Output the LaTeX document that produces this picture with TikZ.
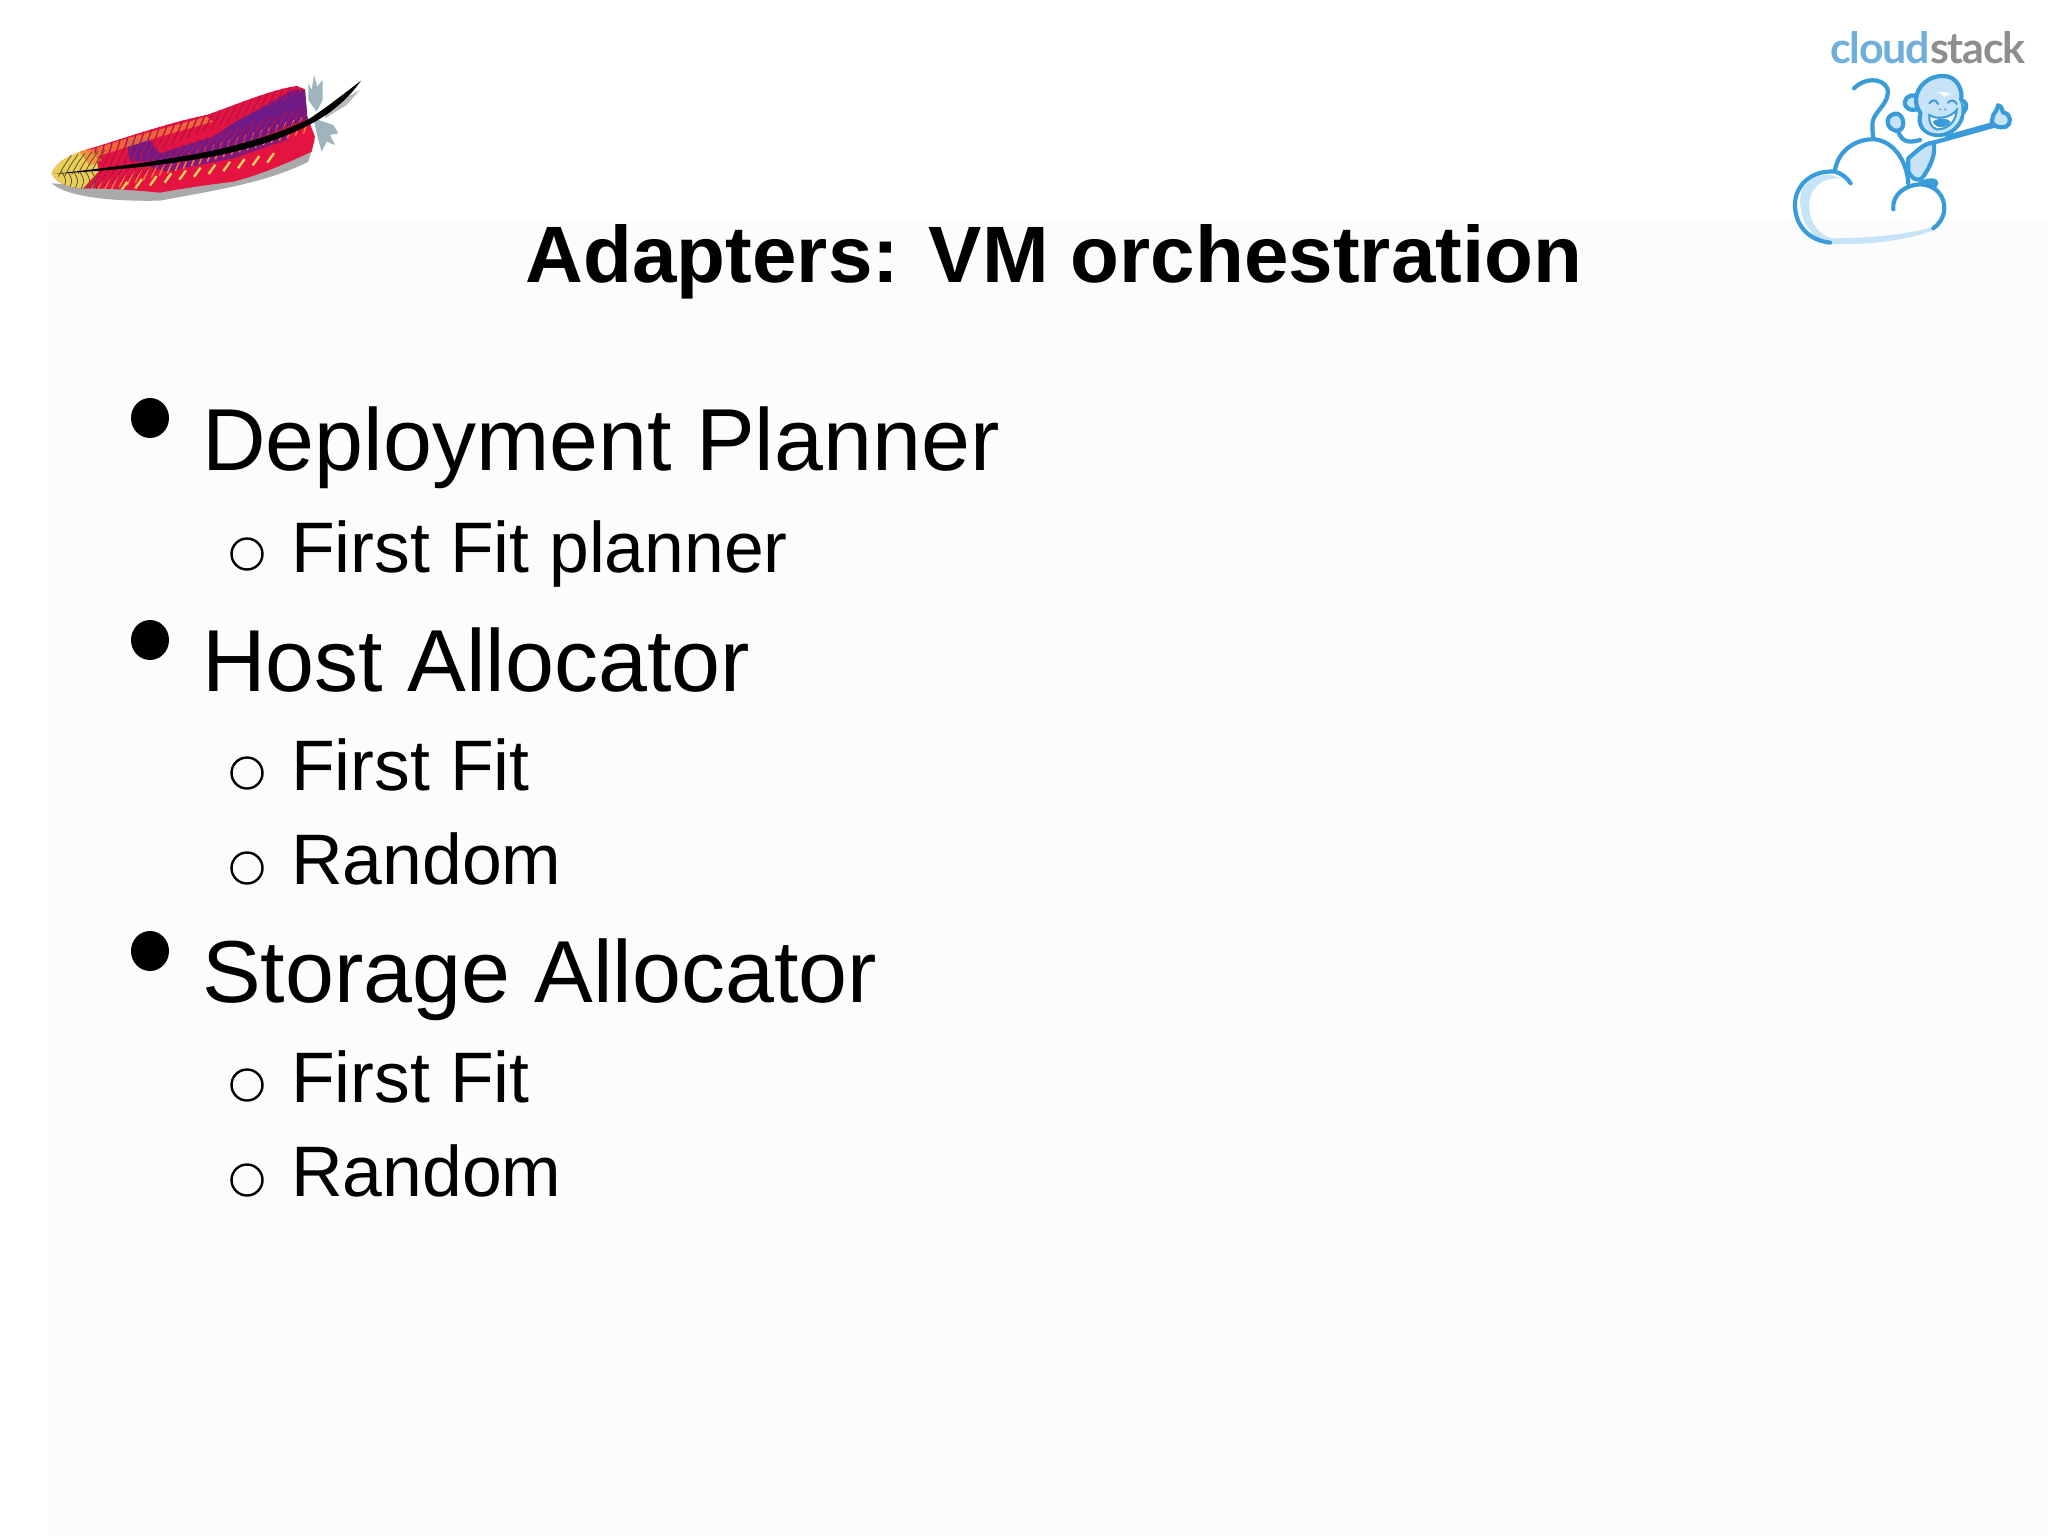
\documentclass[tikz,border=0pt]{standalone}
\usepackage{fontspec}
\setmainfont{Liberation Sans}
\newfontfamily\logofont{Lato}
\definecolor{csblue}{HTML}{3A9BD9}
\definecolor{cslight}{HTML}{C6E3F7}
\definecolor{cstext}{HTML}{6FAFDB}
\definecolor{csgray}{HTML}{8E8E8E}
\definecolor{fred}{HTML}{E5133F}
\definecolor{fdark}{HTML}{B3124F}
\definecolor{fpurple}{HTML}{5B1C97}
\definecolor{forange}{HTML}{F5793A}
\definecolor{fyellow}{HTML}{E9CF5A}
\definecolor{fgray}{HTML}{A9ABAA}
\definecolor{fblue}{HTML}{9FB4BC}
\tikzset{
  titletext/.style={anchor=base,inner sep=0pt,font=\fontsize{80}{90}\selectfont\bfseries},
  leveltwo/.style={anchor=base west,inner sep=0pt,font=\fontsize{88}{100}\selectfont},
  levelthree/.style={anchor=base west,inner sep=0pt,font=\fontsize{71.5}{80}\selectfont},
  bigdot/.style={fill=black,draw=none},
  hollowdot/.style={draw=black,line width=2.4pt,fill=none},
  mline/.style={draw=csblue,line width=4.2pt,line cap=round,line join=round},
  zoomL/.style={shift={(0,40)},x=0.3333pt,y=-0.3333pt},
  zoomR/.style={shift={(1760,20)},x=0.3333pt,y=-0.3333pt}
}
\begin{document}
\begin{tikzpicture}[x=1pt,y=-1pt]
\useasboundingbox (0,0) rectangle (2048,1536);
\fill[white] (0,0) rectangle (2048,1536);
\fill[black!1] (48,220) rectangle (2048,1536);

% Title
\node[titletext] (title) at (1054,282) {Adapters: VM orchestration};

% Bullets
\fill[bigdot] (150,418) ellipse (19 and 20) ;
\node[leveltwo] (dp) at (202,470) {Deployment Planner};
\draw[hollowdot] (247,554) circle (15.5);
\node[levelthree] (ffp) at (291,572) {First Fit planner};
\fill[bigdot] (150,640) ellipse (19 and 20);
\node[leveltwo] (ha) at (202,691) {Host Allocator};
\draw[hollowdot] (247,773) circle (15.5);
\node[levelthree] (ff1) at (291,790) {First Fit};
\draw[hollowdot] (247,868) circle (15.5);
\node[levelthree] (r1) at (291,884) {Random};
\fill[bigdot] (150,951) ellipse (19 and 20);
\node[leveltwo] (sa) at (202,1002) {Storage Allocator};
\draw[hollowdot] (247,1085) circle (15.5);
\node[levelthree] (ff2) at (291,1102) {First Fit};
\draw[hollowdot] (247,1180) circle (15.5);
\node[levelthree] (r2) at (291,1196) {Random};

% Feather
\begin{scope}[zoomL]
  % shadow
  \fill[fgray] (155,430) .. controls (200,470) and (330,485) .. (480,482)
     .. controls (620,455) and (800,430) .. (925,365) -- (945,300) -- (800,380) -- (300,440) -- cycle;
  % grey down
  \fill[fblue] (925,180) -- (925,130) -- (935,150) -- (942,105) -- (952,140) -- (968,120) -- (968,180) -- (950,215) -- cycle;
  \fill[fblue] (940,235) -- (1000,255) -- (1015,280) -- (990,285) -- (1005,315) -- (980,305) -- (965,335) -- (955,300) -- cycle;
  \fill[fgray!80] (980,205) -- (1080,150) -- (1040,195) -- (975,235) -- cycle;
  % vanes
  \begin{scope}
    \clip (155,400) .. controls (170,360) and (230,335) .. (290,320)
      .. controls (400,285) and (520,245) .. (620,225)
      .. controls (720,190) and (810,150) .. (890,138)
      -- (915,148) -- (922,230) -- (945,290) -- (935,335)
      .. controls (860,370) and (780,405) .. (700,425)
      .. controls (620,435) and (550,445) .. (480,458)
      .. controls (400,450) and (320,445) .. (240,445)
      .. controls (200,440) and (170,430) .. (155,400) -- cycle;
    \fill[fred] (140,120) rectangle (960,470);
    \fill[fpurple,opacity=.85] (380,300) -- (440,290) -- (480,340) -- (640,290) -- (700,250) -- (790,200) -- (880,150) -- (925,150) -- (925,235) -- (700,325) -- (500,362) -- (390,365) -- cycle;
    \fill[fpurple,opacity=.7] (430,375) -- (720,325) -- (880,260) -- (860,300) -- (700,355) -- (500,395) -- cycle;
    \fill[forange,opacity=.8] (250,335) -- (400,290) -- (620,230) -- (640,245) -- (480,290) -- (290,350) -- cycle;
    \foreach \i in {0,...,27}{
      \draw[fdark,line width=1.3pt] ({250+\i*24},{420-\i*9.5}) .. controls ({275+\i*24},{370-\i*9.5}) and ({300+\i*24},{330-\i*9.5}) .. ({285+\i*24},{270-\i*9.5});
      \draw[forange,line width=1.5pt] ({262+\i*24},{470-\i*7}) -- ({282+\i*24},{428-\i*7.5});
      \draw[fdark,line width=1.2pt] ({240+\i*24},{460-\i*7}) -- ({285+\i*24},{395-\i*7.5});
    }
    \foreach \i in {1,3,...,21}{
      \draw[fyellow,line width=2.4pt] ({340+\i*22},{458-\i*4.3}) -- ({360+\i*22},{430-\i*4.3});
    }
    % yellow tip
    \fill[fyellow] (140,380) -- (250,325) -- (290,350) -- (295,395) -- (245,450) -- (140,440) -- cycle;
    \fill[forange,opacity=.7] (235,332) -- (270,322) -- (305,360) -- (270,378) -- cycle;
    \foreach \i in {0,...,5}{
      \draw[black!60!fyellow,line width=.8pt] ({175+\i*20},{410-\i*3}) .. controls ({190+\i*20},{380-\i*3}) .. ({215+\i*20},{345-\i*3});
      \draw[black!60!fyellow,line width=.8pt] ({185+\i*18},{395}) .. controls ({200+\i*18},{420}) .. ({190+\i*18},{445});
    }
  \end{scope}
  % shaft
  \fill[black] (165,402) .. controls (300,385) and (420,372) .. (540,350)
     .. controls (700,325) and (840,280) .. (930,235)
     .. controls (990,195) and (1040,155) .. (1083,122)
     .. controls (1050,170) and (1000,215) .. (945,245)
     .. controls (850,300) and (700,345) .. (540,365)
     .. controls (420,385) and (300,392) .. (165,402) -- cycle;
\end{scope}

% CloudStack logo
\node[anchor=base west,inner sep=0pt,font=\logofont\bfseries\fontsize{43}{50}\selectfont,text=cstext] (cloudword) at (1830,64) {\addfontfeature{LetterSpace=-3}cloud};
\node[anchor=base west,inner sep=0pt,font=\logofont\bfseries\fontsize{43}{50}\selectfont,text=csgray] (stackword) at (cloudword.base east) {\addfontfeature{LetterSpace=-3}stack};
\begin{scope}[zoomR]
  % light parts of cloud
  \fill[cslight] (240,476) .. controls (180,470) and (145,510) .. (148,565)
     .. controls (150,620) and (190,650) .. (215,655)
     .. controls (320,655) and (440,645) .. (520,620) -- (522,630)
     .. controls (430,665) and (310,675) .. (210,672)
     .. controls (130,650) and (110,560) .. (125,510) .. controls (150,470) and (200,450) .. (240,476) -- cycle;
  % cloud lines
  \draw[mline] (210,668) .. controls (140,660) and (103,610) .. (105,550)
     .. controls (108,490) and (160,450) .. (225,455) .. controls (245,460) and (262,475) .. (272,490);
  \draw[mline] (225,450) .. controls (235,390) and (290,355) .. (345,358)
     .. controls (400,365) and (440,420) .. (445,490);
  \draw[mline] (400,568) .. controls (395,525) and (435,495) .. (480,493)
     .. controls (530,495) and (555,530) .. (553,570) .. controls (550,595) and (535,615) .. (520,625);
  % tail
  \draw[mline] (282,205) .. controls (310,175) and (365,170) .. (382,205)
     .. controls (392,250) and (345,270) .. (338,305) .. controls (336,325) and (338,340) .. (340,352);
  % body
  \draw[mline,fill=cslight] (445,415) .. controls (470,395) and (490,370) .. (520,368)
     .. controls (530,400) and (510,440) .. (490,470) .. controls (475,490) and (455,475) .. (445,455) -- cycle;
  \fill[csblue] (470,490) .. controls (500,470) and (535,470) .. (535,490) -- (528,505) -- (480,495) -- cycle;
  % arm to the left hand
  \draw[mline] (415,335) .. controls (425,365) and (445,370) .. (480,360);
  \draw[mline,fill=cslight] (395,285) .. controls (420,270) and (435,300) .. (428,320)
     .. controls (420,340) and (395,335) .. (385,315) .. controls (380,300) and (385,290) .. (395,285) -- cycle;
  % right arm and hand
  \draw[mline] (520,368) -- (700,318);
  \draw[mline,line width=3.4pt] (560,350) -- (695,312);
  \draw[mline,fill=cslight] (700,285) .. controls (705,275) and (712,270) .. (714,256)
     .. controls (728,258) and (725,272) .. (730,278) .. controls (755,280) and (755,315) .. (738,320)
     .. controls (720,325) and (700,320) .. (695,305) -- cycle;
  % ears
  \draw[mline,fill=cslight] (468,228) .. controls (445,220) and (428,240) .. (437,258) .. controls (445,272) and (460,270) .. (472,268);
  \draw[mline,fill=cslight] (600,242) .. controls (620,240) and (625,262) .. (612,275) .. controls (605,282) and (595,285) .. (590,285);
  % head
  \draw[mline,fill=cslight] (470,225) .. controls (480,185) and (525,160) .. (565,170)
    .. controls (600,180) and (612,225) .. (600,250)
    .. controls (625,285) and (590,345) .. (535,345)
    .. controls (490,345) and (470,310) .. (482,280)
    .. controls (470,265) and (465,245) .. (470,225) -- cycle;
  % face
  \fill[white] (512,225) .. controls (545,205) and (580,220) .. (600,245)
    .. controls (615,285) and (590,335) .. (535,340)
    .. controls (495,340) and (478,310) .. (490,280) .. controls (495,255) and (500,235) .. (512,225) -- cycle;
  \fill[cslight] (512,225) .. controls (530,212) and (548,220) .. (552,232) .. controls (565,218) and (590,220) .. (600,245)
    .. controls (612,285) and (590,335) .. (535,340)
    .. controls (495,340) and (478,310) .. (490,280) .. controls (495,255) and (500,235) .. (512,225) -- cycle;
  \draw[csblue,line width=2pt,line cap=round] (508,250) .. controls (518,238) and (528,238) .. (534,252);
  \draw[csblue,line width=2pt,line cap=round] (564,248) .. controls (572,238) and (584,240) .. (590,252);
  \fill[csblue] (540,268) ellipse (4 and 2.5);
  \fill[csblue] (556,268) ellipse (4 and 2.5);
  \fill[white,draw=csblue,line width=2pt] (508,285) .. controls (530,300) and (570,295) .. (590,270)
    .. controls (590,305) and (560,330) .. (530,328) .. controls (515,325) and (505,305) .. (508,285) -- cycle;
  \fill[csblue] (518,305) .. controls (535,292) and (565,295) .. (572,305) .. controls (560,325) and (530,330) .. (518,305) -- cycle;
\end{scope}
\end{tikzpicture}
\end{document}
